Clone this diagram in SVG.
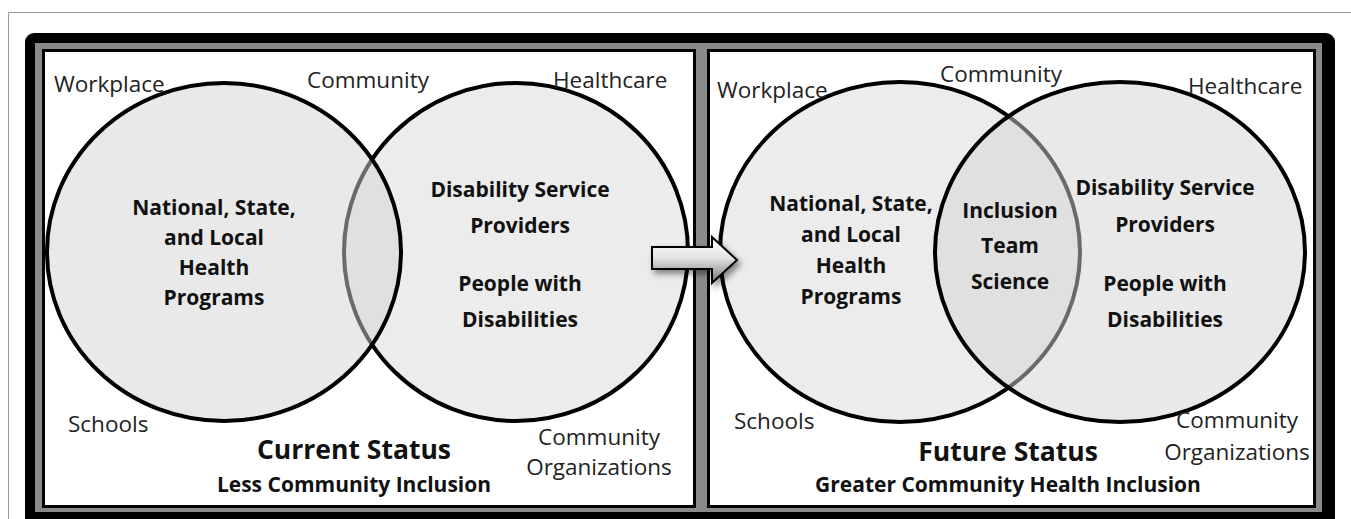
<svg xmlns="http://www.w3.org/2000/svg" width="1351" height="519" viewBox="0 0 1351 519">
  <style>
    .lbl { font-family: "Open Sans", "Liberation Sans", sans-serif; font-size: 22.5px; fill: #222; }
    .bold { font-family: "Open Sans", "Liberation Sans", sans-serif; font-weight: bold; font-size: 21px; fill: #111; text-anchor: middle; }
    .title { font-family: "Open Sans", "Liberation Sans", sans-serif; font-weight: bold; font-size: 26.5px; fill: #111; text-anchor: middle; }
    .sub { font-family: "Open Sans", "Liberation Sans", sans-serif; font-weight: bold; font-size: 21px; fill: #111; text-anchor: middle; }
    .panel { fill: #ffffff; stroke: #000; stroke-width: 3; }
    .under { fill: #ececec; stroke: #000; stroke-width: 4; }
    .over { fill: #d4d4d4; fill-opacity: 0.5; stroke: #000; stroke-width: 4; }
  </style>
  <defs>
    <linearGradient id="arrowFill" x1="0" y1="0" x2="0" y2="1">
      <stop offset="0" stop-color="#ffffff"/>
      <stop offset="0.45" stop-color="#e4e4e4"/>
      <stop offset="0.75" stop-color="#a8a8a8"/>
      <stop offset="1" stop-color="#6a6a6a"/>
    </linearGradient>
    <filter id="shadow" x="-20%" y="-30%" width="150%" height="180%">
      <feDropShadow dx="3" dy="4" stdDeviation="3" flood-color="#000" flood-opacity="0.45"/>
    </filter>
  </defs>

  <!-- page frame -->
  <g id="frame">
    <rect x="8.5" y="12.5" width="1500" height="600" fill="none" stroke="#9a9a9a" stroke-width="1"/>
    <rect x="25" y="33" width="1310" height="520" rx="9" fill="#000"/>
    <rect x="35" y="43" width="1287" height="469" fill="#8a8a8a"/>
  </g>

  <!-- left panel: current status -->
  <g id="panel-current">
    <rect class="panel" x="43.5" y="50.5" width="651" height="456"/>
    <g id="current-providers">
      <ellipse class="under" cx="516" cy="252" rx="172" ry="169"/>
    </g>
    <g id="current-programs">
      <ellipse class="over" cx="224" cy="252" rx="177" ry="169"/>
    </g>
    <text class="lbl" x="54" y="92">Workplace</text>
    <text class="lbl" x="307" y="88">Community</text>
    <text class="lbl" x="553" y="88">Healthcare</text>
    <text class="lbl" x="68" y="432">Schools</text>
    <text class="lbl" x="599" y="445" text-anchor="middle">Community</text>
    <text class="lbl" x="599" y="475" text-anchor="middle">Organizations</text>
    <text class="bold" x="214" y="215">National, State,</text>
    <text class="bold" x="214" y="245">and Local</text>
    <text class="bold" x="214" y="275">Health</text>
    <text class="bold" x="214" y="305">Programs</text>
    <text class="bold" x="520" y="197">Disability Service</text>
    <text class="bold" x="520" y="233">Providers</text>
    <text class="bold" x="520" y="291">People with</text>
    <text class="bold" x="520" y="327">Disabilities</text>
    <text class="title" x="354" y="459">Current Status</text>
    <text class="sub" x="354" y="492">Less Community Inclusion</text>
  </g>

  <!-- right panel: future status -->
  <g id="panel-future">
    <rect class="panel" x="708.5" y="50.5" width="606" height="456"/>
    <g id="future-programs">
      <ellipse class="under" cx="900" cy="252" rx="180" ry="170"/>
    </g>
    <g id="future-providers">
      <ellipse class="over" cx="1120" cy="252" rx="185" ry="170"/>
    </g>
    <text class="lbl" x="717" y="98">Workplace</text>
    <text class="lbl" x="940" y="82">Community</text>
    <text class="lbl" x="1188" y="94">Healthcare</text>
    <text class="lbl" x="734" y="429">Schools</text>
    <text class="lbl" x="1237" y="428" text-anchor="middle">Community</text>
    <text class="lbl" x="1237" y="460" text-anchor="middle">Organizations</text>
    <text class="bold" x="851" y="211">National, State,</text>
    <text class="bold" x="851" y="242">and Local</text>
    <text class="bold" x="851" y="273">Health</text>
    <text class="bold" x="851" y="304">Programs</text>
    <text class="bold" x="1010" y="218">Inclusion</text>
    <text class="bold" x="1010" y="253">Team</text>
    <text class="bold" x="1010" y="289">Science</text>
    <text class="bold" x="1165" y="195">Disability Service</text>
    <text class="bold" x="1165" y="232">Providers</text>
    <text class="bold" x="1165" y="291">People with</text>
    <text class="bold" x="1165" y="327">Disabilities</text>
    <text class="title" x="1008" y="461">Future Status</text>
    <text class="sub" x="1008" y="492">Greater Community Health Inclusion</text>
  </g>

  <!-- transition arrow between the two states -->
  <g id="connectors">
    <path d="M652,247 L712,247 L712,237 L737,260 L712,283 L712,269 L652,269 Z"
          fill="url(#arrowFill)" stroke="#000" stroke-width="2" stroke-linejoin="miter" filter="url(#shadow)"/>
  </g>
</svg>
